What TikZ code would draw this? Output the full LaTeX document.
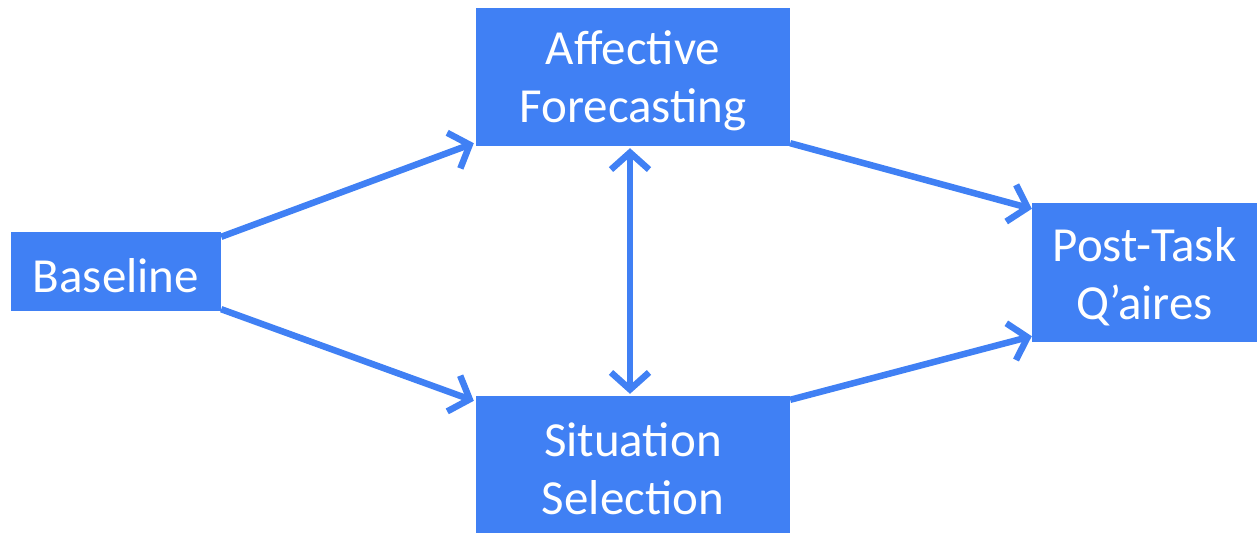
\documentclass[tikz,border=0pt]{standalone}
\usepackage{fontspec}
\setmainfont{Carlito}
\usetikzlibrary{arrows.meta}
\definecolor{boxblue}{RGB}{64,128,244}
\begin{document}
\begin{tikzpicture}[x=1pt,y=-1pt,
  box/.style={fill=boxblue, draw=none, inner sep=0pt},
  lbl/.style={text=white, inner sep=0pt, align=center, yshift=-4pt,
    font=\fontsize{49}{58}\selectfont},
  tipb/.tip={Straight Barb[length=17pt,width=38pt,line width=6.5pt]},
  conn/.style={draw=boxblue, line width=6.5pt, -{tipb}},
  dconn/.style={draw=boxblue, line width=6.5pt, {tipb}-{tipb}}]
\useasboundingbox (0,0) rectangle (1257,535);
\node[box, minimum width=210pt, minimum height=79pt] (base) at (116,271.5) {};
\node[box, minimum width=314pt, minimum height=138pt] (aff) at (633,77) {};
\node[box, minimum width=314pt, minimum height=137pt] (sit) at (633,464.5) {};
\node[box, minimum width=225pt, minimum height=139pt] (post) at (1144.5,272.5) {};
\node[lbl] (baset) at (base.center) {Baseline};
\node[lbl] (afft) at (aff.center) {Affective\\Forecasting};
\node[lbl] (sitt) at (sit.center) {Situation\\Selection};
\node[lbl] (postt) at (post.center) {Post-Task\\Q’aires};
\draw[conn] ([yshift=-5pt]base.north east) -- ([xshift=-2pt,yshift=3pt]aff.south west);
\draw[conn] ([yshift=2pt]base.south east) -- ([xshift=-2pt,yshift=-5pt]sit.north west);
\draw[conn] ([yshift=3pt]aff.south east) -- ([yshift=-6pt]post.north west);
\draw[conn] ([yshift=-4pt]sit.north east) -- ([yshift=6pt]post.south west);
\draw[dconn] ([xshift=-3pt,yshift=-2pt]aff.south) -- ([xshift=-3pt,yshift=2pt]sit.north);
\end{tikzpicture}
\end{document}
